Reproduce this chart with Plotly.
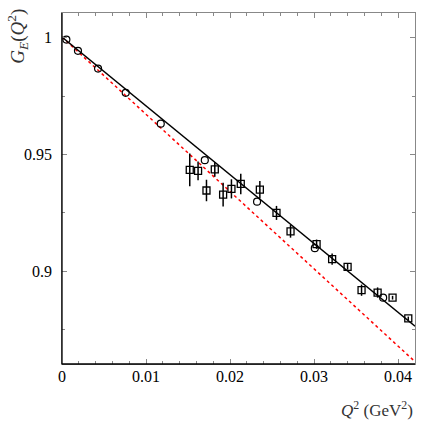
import plotly.graph_objects as go

# open circles (no error bars)
circ_q2 = [0.00052, 0.0019, 0.00429, 0.00758, 0.01175, 0.01699, 0.02321, 0.03008, 0.03821]
circ_ge = [0.9992, 0.9944, 0.9868, 0.9764, 0.9632, 0.9476, 0.9298, 0.9099, 0.8887]

# open squares with error bars
sq_q2 = [0.0152, 0.01619, 0.01719, 0.01818, 0.01917, 0.02016, 0.02127, 0.02354, 0.02552,
         0.02719, 0.03029, 0.03214, 0.03398, 0.03564, 0.03755, 0.03933, 0.0412]
sq_ge = [0.9434, 0.9430, 0.9346, 0.9436, 0.9328, 0.9353, 0.9374, 0.9350, 0.9250,
         0.9171, 0.9116, 0.9052, 0.9019, 0.8919, 0.8909, 0.8887, 0.8798]
sq_err = [0.0070, 0.0040, 0.0046, 0.0031, 0.0051, 0.0041, 0.0044, 0.0037, 0.0030,
          0.0027, 0.0020, 0.0024, 0.0012, 0.0024, 0.0022, 0.0008, 0.0008]

# fit lines (end points)
fit_q2 = [0.0, 0.042]
fit_black = [1.0003, 0.8765]
fit_red = [1.0003, 0.8613]

# tick labels
x_ticks = [0, 0.01, 0.02, 0.03, 0.04]
x_labels = ["0", "0.01", "0.02", "0.03", "0.04"]
y_ticks = [0.9, 0.95, 1.0]
y_labels = ["0.9", "0.95", "1"]

font = "Liberation Serif"

fig = go.Figure()
fig.add_trace(go.Scatter(x=fit_q2, y=fit_red, mode="lines",
                         line=dict(color="red", width=1.5, dash="dot")))
fig.add_trace(go.Scatter(x=fit_q2, y=fit_black, mode="lines",
                         line=dict(color="black", width=1.3)))
fig.add_trace(go.Scatter(x=sq_q2, y=sq_ge, mode="markers",
                         marker=dict(symbol="square-open", size=7, color="black",
                                     line=dict(width=1.3)),
                         error_y=dict(type="data", array=sq_err, color="black",
                                      thickness=1.5, width=0)))
fig.add_trace(go.Scatter(x=circ_q2, y=circ_ge, mode="markers",
                         marker=dict(symbol="circle-open", size=7, color="black",
                                     line=dict(width=1.2))))

fig.update_layout(
    width=427, height=422,
    margin=dict(l=62, r=12, t=13, b=58),
    plot_bgcolor="white", paper_bgcolor="white",
    showlegend=False,
    font=dict(family=font, size=16, color="black"),
    xaxis=dict(range=[0, 0.042], tickvals=x_ticks, showticklabels=False,
               ticks="inside", ticklen=5, tickcolor="#888", automargin=False,
               mirror="ticks",
               minor=dict(dtick=0.002, ticks="inside", ticklen=3, tickcolor="#888"),
               showline=True, linecolor="#888", linewidth=1,
               showgrid=False, zeroline=False),
    yaxis=dict(range=[0.8603, 1.0106], tickvals=y_ticks, showticklabels=False,
               ticks="inside", ticklen=5, tickcolor="#888", automargin=False,
               mirror="ticks",
               minor=dict(dtick=0.025, ticks="inside", ticklen=3, tickcolor="#888"),
               showline=True, linecolor="#888", linewidth=1,
               showgrid=False, zeroline=False),
)

# darker left and bottom axis lines
fig.add_shape(type="line", xref="paper", yref="paper", x0=0, x1=0, y0=0, y1=1,
              line=dict(color="black", width=1.3))
fig.add_shape(type="line", xref="paper", yref="paper", x0=0, x1=1, y0=0, y1=0,
              line=dict(color="black", width=1.3))

for v, t in zip(x_ticks, x_labels):
    fig.add_annotation(text=t, x=v, xref="x", y=0, yref="paper", yanchor="top",
                       yshift=-2, showarrow=False,
                       font=dict(family=font, size=16, color="black"))
for v, t in zip(y_ticks, y_labels):
    fig.add_annotation(text=t, x=0, xref="paper", y=v, yref="y", xanchor="right",
                       xshift=-8, showarrow=False,
                       font=dict(family=font, size=16, color="black"))

fig.add_annotation(text="<i>G</i><sub><i>E</i></sub>(<i>Q</i><sup>2</sup>)",
                   xref="paper", yref="paper", x=-0.125, y=0.935, textangle=-90,
                   showarrow=False, font=dict(family=font, size=19, color="#333"),
                   xanchor="center", yanchor="middle")
fig.add_annotation(text="<i>Q</i><sup>2</sup> (GeV<sup>2</sup>)",
                   xref="paper", yref="paper", x=1.0, y=-0.09,
                   showarrow=False, font=dict(family=font, size=17, color="#333"),
                   xanchor="right", yanchor="top")

fig.write_html("out.html", config={"displayModeBar": False},
               post_script="document.body.style.margin='0';")
